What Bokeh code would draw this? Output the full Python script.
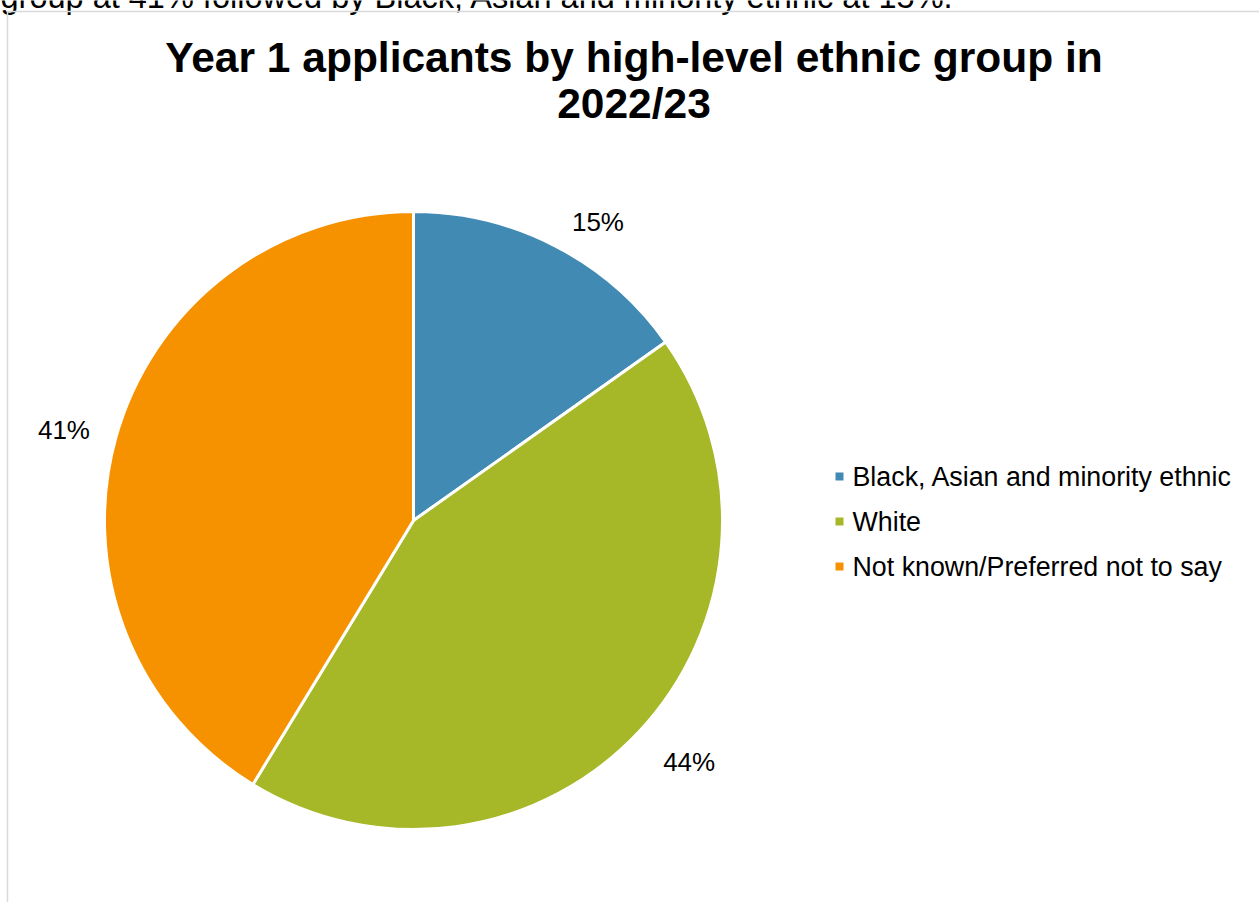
import math
from bokeh.plotting import figure
from bokeh.models import Range1d
from bokeh.core.properties import value
from bokeh.embed import file_html
from bokeh.resources import INLINE

# ---- data ----
categories = ["Black, Asian and minority ethnic", "White", "Not known/Preferred not to say"]
shares = [15.2, 43.5, 41.3]
labels = ["15%", "44%", "41%"]
colors = ["#418AB3", "#A6B727", "#F69200"]

title_lines = ["Year 1 applicants by high-level ethnic group in", "2022/23"]
intro_text = "group at 41% followed by Black, Asian and minority ethnic at 15%."

W, H = 1259, 902
FONT = "Liberation Sans"

p = figure(width=W, height=H, x_range=Range1d(0, W), y_range=Range1d(0, H),
           output_backend="svg", toolbar_location=None, min_border=0)
p.axis.visible = False
p.grid.visible = False
p.outline_line_color = None
p.background_fill_color = "white"
p.border_fill_color = "white"

def Y(y):
    return H - y

# sentence from the surrounding page, cut off at the top edge (as in the reference)
p.text(x=[0], y=[Y(-4)], text=[intro_text], text_font=value(FONT),
       text_font_size="32.5px", text_color="#000000", text_baseline="alphabetic",
       text_align="left")

# chart border
p.quad(left=[7], right=[W + 5], top=[Y(11)], bottom=[-5], fill_color=None,
       line_color="#D9D9D9", line_width=1.5)

# title
p.text(x=[W / 2 + 4, W / 2 + 4], y=[Y(57), Y(103)], text=title_lines,
       text_font=value(FONT), text_font_style="bold", text_font_size="42.5px",
       text_color="#000000", text_align="center", text_baseline="middle")

# pie
cx, cy, r = 413, Y(520), 309
total = sum(shares)
cum = 0.0
starts, ends, mids = [], [], []
for s in shares:
    a0 = math.pi / 2 - 2 * math.pi * cum / total
    cum += s
    a1 = math.pi / 2 - 2 * math.pi * cum / total
    starts.append(a0)
    ends.append(a1)
    mids.append((a0 + a1) / 2)

p.wedge(x=[cx] * 3, y=[cy] * 3, radius=r, start_angle=starts, end_angle=ends,
        direction="clock", fill_color=colors, line_color="white", line_width=3)

# data labels (outside end)
lr = r + 27
for m, lab in zip(mids, labels):
    dx, dy = math.cos(m), math.sin(m)
    align = "left" if dx > 0.3 else ("right" if dx < -0.3 else "center")
    base = "alphabetic" if dy > 0.3 else ("top" if dy < -0.3 else "middle")
    px = 4 if align == "left" else 0
    py = 3 if base == "top" else 0
    p.text(x=[cx + lr * dx + px], y=[cy + lr * dy + py], text=[lab],
           text_font=value(FONT), text_font_size="26px", text_color="#000000",
           text_align=align, text_baseline=base)

# legend
leg_x, leg_y0, leg_dy = 839, 476, 45
ys = [Y(leg_y0 + i * leg_dy) for i in range(len(categories))]
p.scatter(x=[leg_x] * 3, y=ys, marker="square", size=8, fill_color=colors,
          line_color=None)
p.text(x=[leg_x + 13] * 3, y=ys, text=categories, text_font=value(FONT),
       text_font_size="26.8px", text_color="#000000", text_align="left",
       text_baseline="middle")

open("out.html", "w").write(file_html(p, INLINE))
